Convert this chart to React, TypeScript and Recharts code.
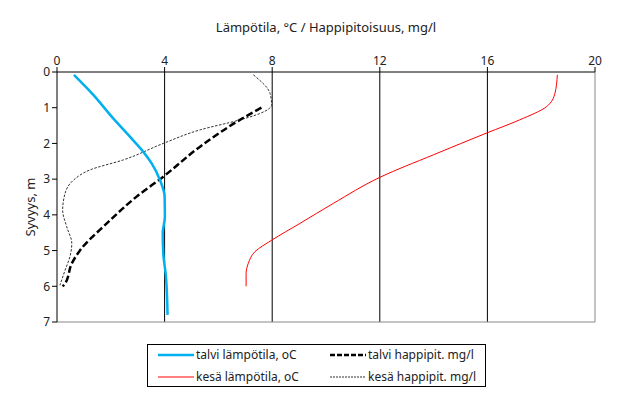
import { LineChart, Line, XAxis, YAxis, ReferenceLine } from "recharts";

// syvyys (m) ja arvo
const talviLampo = [
  { d: 0.08, v: 0.63 },
  { d: 0.64, v: 1.35 },
  { d: 1.3, v: 2.09 },
  { d: 1.81, v: 2.71 },
  { d: 2.18, v: 3.15 },
  { d: 2.56, v: 3.52 },
  { d: 3.03, v: 3.83 },
  { d: 3.49, v: 4.0 },
  { d: 4.05, v: 4.01 },
  { d: 4.52, v: 3.93 },
  { d: 5.07, v: 3.95 },
  { d: 5.73, v: 4.05 },
  { d: 6.8, v: 4.11 },
];

const talviHappi = [
  { d: 1.0, v: 7.6 },
  { d: 1.34, v: 6.8 },
  { d: 2.09, v: 5.32 },
  { d: 2.93, v: 3.95 },
  { d: 3.49, v: 2.96 },
  { d: 4.24, v: 1.85 },
  { d: 4.99, v: 0.86 },
  { d: 5.36, v: 0.55 },
  { d: 5.92, v: 0.3 },
  { d: 6.0, v: 0.21 },
];

const kesaLampo = [
  { d: 0.08, v: 18.6 },
  { d: 0.6, v: 18.51 },
  { d: 0.97, v: 18.2 },
  { d: 1.34, v: 17.2 },
  { d: 1.7, v: 16.0 },
  { d: 2.32, v: 13.99 },
  { d: 2.95, v: 12.0 },
  { d: 3.68, v: 10.27 },
  { d: 4.24, v: 9.03 },
  { d: 4.71, v: 7.98 },
  { d: 5.03, v: 7.36 },
  { d: 5.36, v: 7.11 },
  { d: 5.64, v: 7.03 },
  { d: 6.0, v: 7.03 },
];

const kesaHappi = [
  { d: 0.08, v: 7.3 },
  { d: 0.6, v: 7.92 },
  { d: 0.92, v: 7.98 },
  { d: 1.16, v: 7.55 },
  { d: 1.34, v: 6.8 },
  { d: 1.62, v: 5.32 },
  { d: 2.0, v: 3.95 },
  { d: 2.46, v: 2.47 },
  { d: 2.74, v: 1.23 },
  { d: 3.03, v: 0.61 },
  { d: 3.4, v: 0.3 },
  { d: 3.87, v: 0.21 },
  { d: 4.33, v: 0.36 },
  { d: 4.8, v: 0.55 },
  { d: 5.17, v: 0.48 },
  { d: 5.55, v: 0.3 },
  { d: 5.97, v: 0.11 },
];

const xTicks = [0, 4, 8, 12, 16, 20];
const yTicks = [0, 1, 2, 3, 4, 5, 6, 7];
const gridX = [4, 8, 12, 16];

const font = "'Noto Sans', sans-serif";

function YLabel(props: any) {
  const vb = props.viewBox || { x: 27, y: 72, width: 30, height: 250 };
  const x = vb.x + 3;
  const y = vb.y + vb.height / 2 + 10;
  return (
    <text x={x} y={y} transform={`rotate(-90 ${x} ${y})`} textAnchor="middle" dominantBaseline="central" fill="#222" fontSize={13} fontFamily={font}>
      Syvyys, m
    </text>
  );
}

function LegendItem(props: { color: string; width: number; dash?: string; label: string }) {
  return (
    <div style={{ display: "flex", alignItems: "center", height: 22 }}>
      <svg width={36} height={10} style={{ marginRight: 2 }}>
        <line x1={0} y1={5} x2={36} y2={5} stroke={props.color} strokeWidth={props.width} strokeDasharray={props.dash} />
      </svg>
      <span>{props.label}</span>
    </div>
  );
}

export default function App() {
  return (
    <div style={{ position: "absolute", left: 0, top: 0, width: 618, height: 396, background: "#fff", fontFamily: font }}>
      <div style={{ position: "absolute", top: 18, left: 0, width: 652, textAlign: "center", fontSize: 13, color: "#222" }}>
        Lämpötila, °C / Happipitoisuus, mg/l
      </div>

      <LineChart width={618} height={396} layout="vertical" margin={{ top: 42, right: 23, bottom: 74, left: 27 }}>
        <XAxis
          type="number"
          orientation="top"
          domain={[0, 20]}
          ticks={xTicks}
          height={30}
          stroke="#000"
          tick={{ fill: "#222", fontSize: 12, fontFamily: font }}
          tickSize={5}
          allowDataOverflow
        />
        <YAxis
          type="number"
          dataKey="d"
          domain={[0, 7]}
          ticks={yTicks}
          width={30}
          stroke="#000"
          tick={{ fill: "#222", fontSize: 12, fontFamily: font }}
          tickSize={5}
          allowDataOverflow
          label={<YLabel />}
        />
        {gridX.map((x) => (
          <ReferenceLine key={x} x={x} stroke="#000" strokeWidth={1} />
        ))}
        <ReferenceLine x={20} stroke="#888" />
        <ReferenceLine y={7} stroke="#888" />
        <Line data={kesaLampo} dataKey="v" type="monotone" stroke="#ff0000" strokeWidth={1} dot={false} isAnimationActive={false} />
        <Line data={kesaHappi} dataKey="v" type="monotone" stroke="#333" strokeWidth={1} strokeDasharray="2.5 1.5" dot={false} isAnimationActive={false} />
        <Line data={talviHappi} dataKey="v" type="monotone" stroke="#000" strokeWidth={2.5} strokeDasharray="7 3" dot={false} isAnimationActive={false} />
        <Line data={talviLampo} dataKey="v" type="monotone" stroke="#00b0f0" strokeWidth={2.5} dot={false} isAnimationActive={false} />
      </LineChart>

      <div
        style={{
          position: "absolute",
          left: 147,
          top: 344,
          width: 339,
          height: 43,
          border: "1px solid #000",
          fontSize: 12,
          color: "#222",
          display: "grid",
          gridTemplateColumns: "172px 160px",
          paddingLeft: 10,
          boxSizing: "border-box",
          alignContent: "center",
        }}
      >
        <LegendItem color="#00b0f0" width={2.5} label="talvi lämpötila, oC" />
        <LegendItem color="#000" width={2.5} dash="5 2" label="talvi happipit. mg/l" />
        <LegendItem color="#ff0000" width={1} label="kesä lämpötila, oC" />
        <LegendItem color="#333" width={1} dash="2 1" label="kesä happipit. mg/l" />
      </div>
    </div>
  );
}
